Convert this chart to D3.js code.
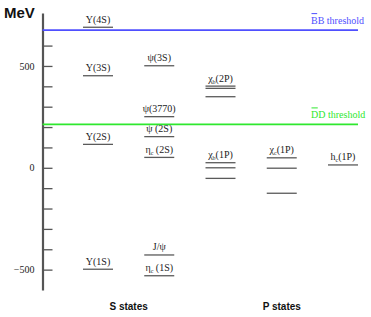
<!DOCTYPE html>
<html>
<head>
<meta charset="utf-8">
<script src="https://cdn.jsdelivr.net/npm/d3@7"></script>
<style>
  body { margin: 0; background: #fff; }
  svg { display: block; }
</style>
</head>
<body>
<div id="chart_root"></div>
<script>
const widthValue = 371;
const heightValue = 317;

// columns of levels, left to right
const columns = ["bottomS", "charmS", "bottomP", "charmP", "charmH"];

// energies in MeV (relative)
const bottomS = [690, 452, 115, -498];
const bottomSNames = ["Υ(4S)", "Υ(3S)", "Υ(2S)", "Υ(1S)"];

const charmS = [501, 251, 153, 51, -428, -530];
const charmSNames = ["ψ(3S)", "ψ(3770)", "ψ   (2S)", "η_c (2S)", "J/ψ", "η_c (1S)"];

const bottom2P = [401, 390, 349];
const bottom1P = [25, 0, -52];
const charm1P = [49, -2, -125];
const charmH1P = [14];

const thresholds = [676, 213];
const thresholdNames = ["BB threshold", "DD threshold"];
const thresholdColors = ["#4f4fff", "#2ee82e"];

const tickValues = d3.range(-500, 700, 100);
const labelTicks = [500, 0, -500];
const groupNames = ["S states", "P states"];

// one row per line drawn, label only on the top line of a multiplet
const levels = [];
bottomS.forEach((v, i) => levels.push({ col: "bottomS", v: v, label: bottomSNames[i] }));
charmS.forEach((v, i) => levels.push({ col: "charmS", v: v, label: charmSNames[i] }));
bottom2P.forEach((v, i) => levels.push({ col: "bottomP", v: v, label: i == 0 ? "χ_b(2P)" : null }));
bottom1P.forEach((v, i) => levels.push({ col: "bottomP", v: v, label: i == 0 ? "χ_b(1P)" : null }));
charm1P.forEach((v, i) => levels.push({ col: "charmP", v: v, label: i == 0 ? "χ_c(1P)" : null }));
charmH1P.forEach((v, i) => levels.push({ col: "charmH", v: v, label: "h_c(1P)" }));

const svg = d3
  .select("#chart_root")
  .append("svg")
  .attr("width", widthValue)
  .attr("height", heightValue);

const yScale = d3.scaleLinear().domain([-600, 760]).range([290, 13]);
const xScale = d3.scalePoint().domain(columns).range([98, 343]);
const half = 15;
const axisX = 42.5;

// ticks to the right of the axis
svg
  .append("g")
  .attr("transform", "translate(" + axisX + ",0)")
  .call(d3.axisRight(yScale).tickValues(tickValues).tickSizeInner(10).tickSizeOuter(0).tickFormat(""))
  .call((g) => g.select(".domain").attr("stroke", "#555").attr("stroke-width", 2.2))
  .call((g) => g.selectAll(".tick line").attr("stroke", "#555").attr("stroke-width", 1.3));

// value labels on the left
svg
  .append("g")
  .attr("transform", "translate(" + (axisX - 8) + ",0)")
  .call(d3.axisLeft(yScale).tickValues(labelTicks).tickSize(0).tickPadding(0).tickFormat((d) => (d < 0 ? "\u2212" + Math.abs(d) : d)))
  .call((g) => g.select(".domain").remove())
  .call((g) =>
    g
      .selectAll(".tick text")
      .attr("font-family", "'Liberation Serif', 'Times New Roman', serif")
      .attr("font-size", 10)
      .attr("fill", "#222")
  );

svg
  .append("text")
  .attr("x", 4)
  .attr("y", 18)
  .attr("font-family", "'Liberation Sans', Arial, sans-serif")
  .attr("font-weight", "bold")
  .attr("font-size", 15)
  .attr("fill", "#111")
  .text("MeV");

// thresholds
thresholds.forEach((t, i) => {
  svg
    .append("line")
    .attr("x1", axisX)
    .attr("x2", 358)
    .attr("y1", yScale(t))
    .attr("y2", yScale(t))
    .attr("stroke", thresholdColors[i])
    .attr("stroke-width", 1.6);
  var txt = svg
    .append("text")
    .attr("x", 311)
    .attr("y", yScale(t) - 6.5)
    .attr("font-family", "'Liberation Serif', 'Times New Roman', serif")
    .attr("font-size", 10)
    .attr("fill", thresholdColors[i])
    .text(thresholdNames[i]);
  // bar over the first letter
  var n = txt.node();
  var a = n.getStartPositionOfChar(0);
  var b = n.getEndPositionOfChar(0);
  svg
    .append("line")
    .attr("x1", a.x + 0.5)
    .attr("x2", b.x - 0.5)
    .attr("y1", yScale(t) - 16.5)
    .attr("y2", yScale(t) - 16.5)
    .attr("stroke", thresholdColors[i])
    .attr("stroke-width", 1);
});

// level lines
svg
  .append("g")
  .selectAll("line")
  .data(levels)
  .join("line")
  .attr("x1", (d) => xScale(d.col) - half)
  .attr("x2", (d) => xScale(d.col) + half)
  .attr("y1", (d) => yScale(d.v))
  .attr("y2", (d) => yScale(d.v))
  .attr("stroke", "#5a5a5a")
  .attr("stroke-width", 1.3);

// level labels, "_" marks a one letter subscript
const lab = svg
  .append("g")
  .selectAll("text")
  .data(levels.filter((d) => d.label))
  .join("text")
  .attr("x", (d) => xScale(d.col))
  .attr("y", (d) => yScale(d.v) - 4.5)
  .attr("text-anchor", "middle")
  .attr("font-family", "'Liberation Serif', 'Times New Roman', serif")
  .attr("font-size", 10)
  .attr("fill", "#222");

lab.each(function (d) {
  var t = d3.select(this);
  var parts = d.label.split("_");
  t.append("tspan").text(parts[0]);
  if (parts.length > 1) {
    t.append("tspan").attr("font-size", 6).attr("dy", 2).text(parts[1][0]);
    t.append("tspan").attr("dy", -2).text(parts[1].slice(1));
  }
});

// group captions
svg
  .selectAll(".group")
  .data(groupNames)
  .join("text")
  .attr("class", "group")
  .attr("x", (d, i) => (i == 0 ? (xScale("bottomS") + xScale("charmS")) / 2 : (xScale("bottomP") + xScale("charmH")) / 2))
  .attr("y", 310)
  .attr("text-anchor", "middle")
  .attr("font-family", "'Liberation Sans', Arial, sans-serif")
  .attr("font-weight", "bold")
  .attr("font-size", 10)
  .attr("fill", "#111")
  .text((d) => d);
</script>
</body>
</html>
